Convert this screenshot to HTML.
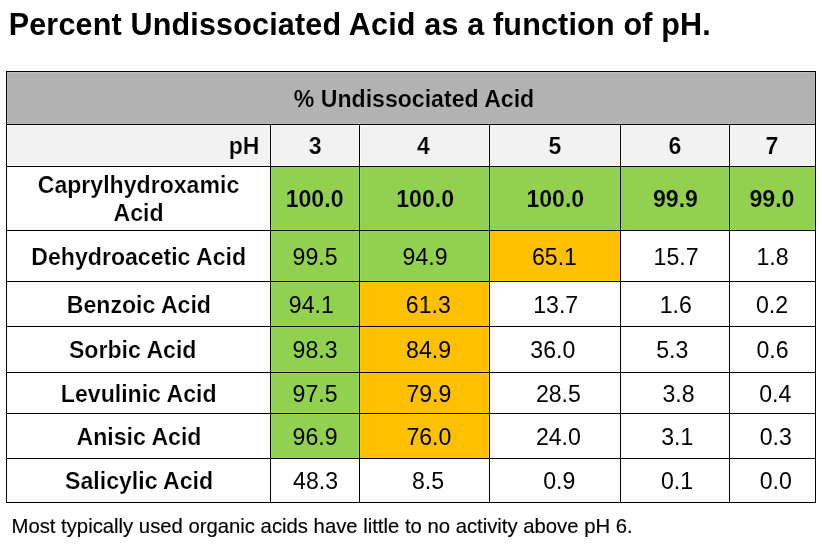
<!DOCTYPE html>
<html><head><meta charset="utf-8"><title>Percent Undissociated Acid as a function of pH</title>
<style>
html,body{margin:0;padding:0;background:#fff}
body{width:822px;height:545px;position:relative;overflow:hidden;font-family:"Liberation Sans",sans-serif;color:#000}
.r{position:absolute}
.t{position:absolute;line-height:1;white-space:nowrap;font-weight:400}
.b{font-weight:700}
.f{-webkit-text-stroke:0.15px #000}
.s{transform:scaleY(1.04);transform-origin:50% 84.65%}
</style></head><body>
<div class="r" style="left:7px;top:72px;width:808px;height:52px;background:#b2b2b2;box-shadow:inset 0 0 0 1px #bdbdbd"></div>
<div class="r" style="left:7px;top:125px;width:263px;height:41px;background:#f2f2f2;box-shadow:inset 0 0 0 1px #fdfdfd"></div>
<div class="r" style="left:271px;top:125px;width:88px;height:41px;background:#f2f2f2;box-shadow:inset 0 0 0 1px #fdfdfd"></div>
<div class="r" style="left:360px;top:125px;width:129px;height:41px;background:#f2f2f2;box-shadow:inset 0 0 0 1px #fdfdfd"></div>
<div class="r" style="left:490px;top:125px;width:130px;height:41px;background:#f2f2f2;box-shadow:inset 0 0 0 1px #fdfdfd"></div>
<div class="r" style="left:621px;top:125px;width:108px;height:41px;background:#f2f2f2;box-shadow:inset 0 0 0 1px #fdfdfd"></div>
<div class="r" style="left:730px;top:125px;width:85px;height:41px;background:#f2f2f2;box-shadow:inset 0 0 0 1px #fdfdfd"></div>
<div class="r" style="left:271px;top:167px;width:88px;height:63px;background:#92d050;box-shadow:inset 0 0 0 1px #98d856"></div>
<div class="r" style="left:360px;top:167px;width:129px;height:63px;background:#92d050;box-shadow:inset 0 0 0 1px #98d856"></div>
<div class="r" style="left:490px;top:167px;width:130px;height:63px;background:#92d050;box-shadow:inset 0 0 0 1px #98d856"></div>
<div class="r" style="left:621px;top:167px;width:108px;height:63px;background:#92d050;box-shadow:inset 0 0 0 1px #98d856"></div>
<div class="r" style="left:730px;top:167px;width:85px;height:63px;background:#92d050;box-shadow:inset 0 0 0 1px #98d856"></div>
<div class="r" style="left:271px;top:231px;width:88px;height:50px;background:#92d050;box-shadow:inset 0 0 0 1px #98d856"></div>
<div class="r" style="left:360px;top:231px;width:129px;height:50px;background:#92d050;box-shadow:inset 0 0 0 1px #98d856"></div>
<div class="r" style="left:490px;top:231px;width:130px;height:50px;background:#ffc000;box-shadow:inset 0 0 0 1px #ffc806"></div>
<div class="r" style="left:271px;top:282px;width:88px;height:44px;background:#92d050;box-shadow:inset 0 0 0 1px #98d856"></div>
<div class="r" style="left:360px;top:282px;width:129px;height:44px;background:#ffc000;box-shadow:inset 0 0 0 1px #ffc806"></div>
<div class="r" style="left:271px;top:327px;width:88px;height:45px;background:#92d050;box-shadow:inset 0 0 0 1px #98d856"></div>
<div class="r" style="left:360px;top:327px;width:129px;height:45px;background:#ffc000;box-shadow:inset 0 0 0 1px #ffc806"></div>
<div class="r" style="left:271px;top:373px;width:88px;height:40px;background:#92d050;box-shadow:inset 0 0 0 1px #98d856"></div>
<div class="r" style="left:360px;top:373px;width:129px;height:40px;background:#ffc000;box-shadow:inset 0 0 0 1px #ffc806"></div>
<div class="r" style="left:271px;top:414px;width:88px;height:44px;background:#92d050;box-shadow:inset 0 0 0 1px #98d856"></div>
<div class="r" style="left:360px;top:414px;width:129px;height:44px;background:#ffc000;box-shadow:inset 0 0 0 1px #ffc806"></div>
<div class="r" style="left:6px;top:71px;width:810px;height:1px;background:#000"></div>
<div class="r" style="left:6px;top:124px;width:810px;height:1px;background:#000"></div>
<div class="r" style="left:6px;top:166px;width:810px;height:1px;background:#000"></div>
<div class="r" style="left:6px;top:230px;width:810px;height:1px;background:#000"></div>
<div class="r" style="left:6px;top:281px;width:810px;height:1px;background:#000"></div>
<div class="r" style="left:6px;top:326px;width:810px;height:1px;background:#000"></div>
<div class="r" style="left:6px;top:372px;width:810px;height:1px;background:#000"></div>
<div class="r" style="left:6px;top:413px;width:810px;height:1px;background:#000"></div>
<div class="r" style="left:6px;top:458px;width:810px;height:1px;background:#000"></div>
<div class="r" style="left:6px;top:502px;width:810px;height:1px;background:#000"></div>
<div class="r" style="left:6px;top:71px;width:1px;height:432px;background:#000"></div>
<div class="r" style="left:270px;top:124px;width:1px;height:379px;background:#000"></div>
<div class="r" style="left:359px;top:124px;width:1px;height:379px;background:#000"></div>
<div class="r" style="left:489px;top:124px;width:1px;height:379px;background:#000"></div>
<div class="r" style="left:620px;top:124px;width:1px;height:379px;background:#000"></div>
<div class="r" style="left:729px;top:124px;width:1px;height:379px;background:#000"></div>
<div class="r" style="left:815px;top:71px;width:1px;height:432px;background:#000"></div>
<div class="t b" style="top:8.88px;font-size:30.5px;letter-spacing:0.18px;left:8.70px;">Percent Undissociated Acid as a function of pH.</div>
<div class="t b s" style="top:88.15px;font-size:23.1px;-webkit-text-stroke:0.2px #b2b2b2;left:114.00px;width:600px;text-align:center;">% Undissociated Acid</div>
<div class="t b s" style="top:134.85px;font-size:23.1px;-webkit-text-stroke:0.2px #f2f2f2;left:-340.50px;width:600px;text-align:right;">pH</div>
<div class="t b s" style="top:134.85px;font-size:23.1px;-webkit-text-stroke:0.2px #f2f2f2;left:15.10px;width:600px;text-align:center;">3</div>
<div class="t b s" style="top:134.85px;font-size:23.1px;-webkit-text-stroke:0.2px #f2f2f2;left:123.40px;width:600px;text-align:center;">4</div>
<div class="t b s" style="top:134.85px;font-size:23.1px;-webkit-text-stroke:0.2px #f2f2f2;left:255.00px;width:600px;text-align:center;">5</div>
<div class="t b s" style="top:134.85px;font-size:23.1px;-webkit-text-stroke:0.2px #f2f2f2;left:375.00px;width:600px;text-align:center;">6</div>
<div class="t b s" style="top:134.85px;font-size:23.1px;-webkit-text-stroke:0.2px #f2f2f2;left:472.00px;width:600px;text-align:center;">7</div>
<div class="t b s" style="top:174.05px;font-size:23.1px;-webkit-text-stroke:0.2px #fff;left:-161.50px;width:600px;text-align:center;">Caprylhydroxamic</div>
<div class="t b s" style="top:201.85px;font-size:23.1px;-webkit-text-stroke:0.2px #fff;left:-161.50px;width:600px;text-align:center;">Acid</div>
<div class="t b s" style="top:187.95px;font-size:23.1px;-webkit-text-stroke:0.2px #92d050;left:14.60px;width:600px;text-align:center;">100.0</div>
<div class="t b s" style="top:187.95px;font-size:23.1px;-webkit-text-stroke:0.2px #92d050;left:125.20px;width:600px;text-align:center;">100.0</div>
<div class="t b s" style="top:187.95px;font-size:23.1px;-webkit-text-stroke:0.2px #92d050;left:255.30px;width:600px;text-align:center;">100.0</div>
<div class="t b s" style="top:187.95px;font-size:23.1px;-webkit-text-stroke:0.2px #92d050;left:375.50px;width:600px;text-align:center;">99.9</div>
<div class="t b s" style="top:187.95px;font-size:23.1px;-webkit-text-stroke:0.2px #92d050;left:472.00px;width:600px;text-align:center;">99.0</div>
<div class="t b s" style="top:245.55px;font-size:23.1px;-webkit-text-stroke:0.2px #fff;left:-161.30px;width:600px;text-align:center;">Dehydroacetic Acid</div>
<div class="t s" style="top:245.55px;font-size:23.1px;left:15.10px;width:600px;text-align:center;">99.5</div>
<div class="t s" style="top:245.55px;font-size:23.1px;left:125.10px;width:600px;text-align:center;">94.9</div>
<div class="t s" style="top:245.55px;font-size:23.1px;left:254.50px;width:600px;text-align:center;">65.1</div>
<div class="t s" style="top:245.55px;font-size:23.1px;left:376.10px;width:600px;text-align:center;">15.7</div>
<div class="t s" style="top:245.55px;font-size:23.1px;left:472.50px;width:600px;text-align:center;">1.8</div>
<div class="t b s" style="top:293.55px;font-size:23.1px;-webkit-text-stroke:0.2px #fff;left:-161.10px;width:600px;text-align:center;">Benzoic Acid</div>
<div class="t s" style="top:293.55px;font-size:23.1px;left:11.30px;width:600px;text-align:center;">94.1</div>
<div class="t s" style="top:293.55px;font-size:23.1px;left:128.30px;width:600px;text-align:center;">61.3</div>
<div class="t s" style="top:293.55px;font-size:23.1px;left:255.70px;width:600px;text-align:center;">13.7</div>
<div class="t s" style="top:293.55px;font-size:23.1px;left:375.80px;width:600px;text-align:center;">1.6</div>
<div class="t s" style="top:293.55px;font-size:23.1px;left:472.00px;width:600px;text-align:center;">0.2</div>
<div class="t b s" style="top:339.05px;font-size:23.1px;-webkit-text-stroke:0.2px #fff;left:-167.30px;width:600px;text-align:center;">Sorbic Acid</div>
<div class="t s" style="top:339.05px;font-size:23.1px;left:15.10px;width:600px;text-align:center;">98.3</div>
<div class="t s" style="top:339.05px;font-size:23.1px;left:128.60px;width:600px;text-align:center;">84.9</div>
<div class="t s" style="top:339.05px;font-size:23.1px;left:252.80px;width:600px;text-align:center;">36.0</div>
<div class="t s" style="top:339.05px;font-size:23.1px;left:372.20px;width:600px;text-align:center;">5.3</div>
<div class="t s" style="top:339.05px;font-size:23.1px;left:472.50px;width:600px;text-align:center;">0.6</div>
<div class="t b s" style="top:382.55px;font-size:23.1px;-webkit-text-stroke:0.2px #fff;left:-161.30px;width:600px;text-align:center;">Levulinic Acid</div>
<div class="t s" style="top:382.55px;font-size:23.1px;left:15.10px;width:600px;text-align:center;">97.5</div>
<div class="t s" style="top:382.55px;font-size:23.1px;left:128.90px;width:600px;text-align:center;">79.9</div>
<div class="t s" style="top:382.55px;font-size:23.1px;left:258.40px;width:600px;text-align:center;">28.5</div>
<div class="t s" style="top:382.55px;font-size:23.1px;left:378.50px;width:600px;text-align:center;">3.8</div>
<div class="t s" style="top:382.55px;font-size:23.1px;left:475.30px;width:600px;text-align:center;">0.4</div>
<div class="t b s" style="top:425.55px;font-size:23.1px;-webkit-text-stroke:0.2px #fff;left:-161.00px;width:600px;text-align:center;">Anisic Acid</div>
<div class="t s" style="top:425.55px;font-size:23.1px;left:15.10px;width:600px;text-align:center;">96.9</div>
<div class="t s" style="top:425.55px;font-size:23.1px;left:128.90px;width:600px;text-align:center;">76.0</div>
<div class="t s" style="top:425.55px;font-size:23.1px;left:258.40px;width:600px;text-align:center;">24.0</div>
<div class="t s" style="top:425.55px;font-size:23.1px;left:377.20px;width:600px;text-align:center;">3.1</div>
<div class="t s" style="top:425.55px;font-size:23.1px;left:475.80px;width:600px;text-align:center;">0.3</div>
<div class="t b s" style="top:470.05px;font-size:23.1px;-webkit-text-stroke:0.2px #fff;left:-160.90px;width:600px;text-align:center;">Salicylic Acid</div>
<div class="t s" style="top:470.05px;font-size:23.1px;left:15.60px;width:600px;text-align:center;">48.3</div>
<div class="t s" style="top:470.05px;font-size:23.1px;left:128.10px;width:600px;text-align:center;">8.5</div>
<div class="t s" style="top:470.05px;font-size:23.1px;left:259.30px;width:600px;text-align:center;">0.9</div>
<div class="t s" style="top:470.05px;font-size:23.1px;left:377.10px;width:600px;text-align:center;">0.1</div>
<div class="t s" style="top:470.05px;font-size:23.1px;left:475.70px;width:600px;text-align:center;">0.0</div>
<div class="t f" style="top:515.92px;font-size:20.3px;left:11.50px;">Most typically used organic acids have little to no activity above pH 6.</div>
</body></html>
